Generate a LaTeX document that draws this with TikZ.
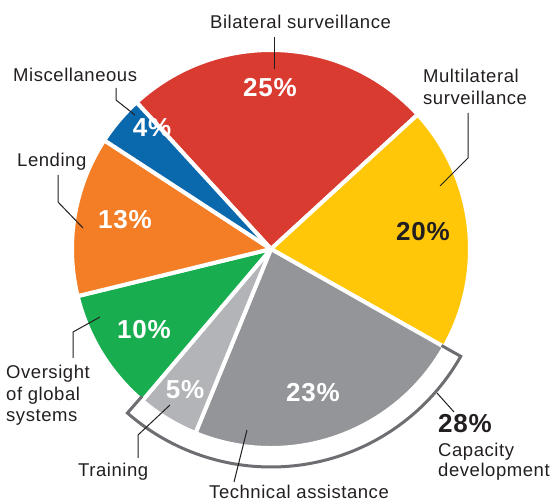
\documentclass[tikz,border=0pt]{standalone}
\usepackage{fontspec}
\usetikzlibrary{calc}
\setmainfont{Liberation Sans}[LetterSpace=3]
\definecolor{cRed}{HTML}{D93B30}
\definecolor{cYellow}{HTML}{FFC708}
\definecolor{cGray}{HTML}{939598}
\definecolor{cLight}{HTML}{B2B4B7}
\definecolor{cGreen}{HTML}{18AE50}
\definecolor{cOrange}{HTML}{F37E26}
\definecolor{cBlue}{HTML}{0A68AD}
\definecolor{cBracket}{HTML}{6D6E71}
\definecolor{cText}{HTML}{231F20}
\begin{document}
\begin{tikzpicture}[x=1pt,y=1pt,
  slice/.style={draw=white,line width=4pt,line join=round},
  lbl/.style={anchor=base west,inner sep=0pt,text=cText,font=\fontsize{18.5}{22}\selectfont},
  pct/.style={inner sep=0pt,font=\fontsize{26}{28}\selectfont\bfseries,text=white},
  leader/.style={draw=cText,line width=1pt}]
\useasboundingbox (0,0) rectangle (552,-502);
\coordinate (C) at (271,-249);
\def\R{199}
% slices
\filldraw[slice,fill=cRed] (C) -- ++(132.5:\R) arc[start angle=132.5,end angle=42.5,radius=\R] -- cycle;
\filldraw[slice,fill=cYellow] (C) -- ++(42.5:\R) arc[start angle=42.5,end angle=-29.5,radius=\R] -- cycle;
\filldraw[slice,fill=cGray] (C) -- ++(-29.5:\R) arc[start angle=-29.5,end angle=-112.3,radius=\R] -- cycle;
\filldraw[slice,fill=cLight] (C) -- ++(-112.3:\R) arc[start angle=-112.3,end angle=-130.3,radius=\R] -- cycle;
\filldraw[slice,fill=cGreen] (C) -- ++(-130.3:\R) arc[start angle=-130.3,end angle=-166.3,radius=\R] -- cycle;
\filldraw[slice,fill=cOrange] (C) -- ++(-166.3:\R) arc[start angle=-166.3,end angle=-213.1,radius=\R] -- cycle;
\filldraw[slice,fill=cBlue] (C) -- ++(-213.1:\R) arc[start angle=-213.1,end angle=-227.5,radius=\R] -- cycle;
% capacity development bracket
\draw[cBracket,line width=3pt,line join=miter] ($(C)+(-29.5:196)$) -- ($(C)+(-29.5:218)$)
  arc[start angle=-29.5,end angle=-131.2,radius=218] -- ($(C)+(-131.2:196)$);
% percentages
\node[pct] (p25) at (270,-88) {25\%};
\node[pct,text=cText] (p20) at (423,-232) {20\%};
\node[pct] (p23) at (313,-393) {23\%};
\node[pct] (p5) at (185,-390) {5\%};
\node[pct] (p10) at (144,-330) {10\%};
\node[pct] (p13) at (125,-220) {13\%};
\node[pct] (p4) at (152,-128) {4\%};
% labels
\node[lbl] (bil) at (210,-29) {Bilateral surveillance};
\node[lbl] (mul1) at (423,-83) {Multilateral};
\node[lbl] (mul2) at (423,-105) {surveillance};
\node[lbl] (misc) at (13,-82) {Miscellaneous};
\node[lbl] (lend) at (17,-167) {Lending};
\node[lbl] (ov1) at (6,-379) {Oversight};
\node[lbl] (ov2) at (6,-401) {of global};
\node[lbl] (ov3) at (6,-422) {systems};
\node[lbl] (train) at (78,-477) {Training};
\node[lbl] (tech) at (209,-498.5) {Technical assistance};
\node[lbl,font=\fontsize{26}{28}\selectfont\bfseries] (cap0) at (438,-433) {28\%};
\node[lbl] (cap1) at (438,-457) {Capacity};
\node[lbl] (cap2) at (438,-477) {development};
% leader lines
\coordinate (bA) at (274,-37); \coordinate (bB) at (274,-69);
\draw[leader] (bA) -- (bB);
\coordinate (mA) at (468,-113); \coordinate (mB) at (468,-158); \coordinate (mC) at (440,-186);
\draw[leader] (mA) -- (mB) -- (mC);
\coordinate (sA) at (116,-88); \coordinate (sB) at (116,-100); \coordinate (sC) at (135,-115);
\draw[leader] (sA) -- (sB) -- (sC);
\coordinate (lA) at (58,-175); \coordinate (lB) at (58,-202); \coordinate (lC) at (83,-228);
\draw[leader] (lA) -- (lB) -- (lC);
\coordinate (oA) at (73,-358); \coordinate (oB) at (73,-332); \coordinate (oC) at (100,-317);
\draw[leader] (oA) -- (oB) -- (oC);
\coordinate (tA) at (138,-458); \coordinate (tB) at (138,-435); \coordinate (tC) at (170,-405);
\draw[leader] (tA) -- (tB) -- (tC);
\coordinate (eA) at (234,-482); \coordinate (eB) at (247,-430);
\draw[leader] (eA) -- (eB);
\coordinate (cA) at (437,-393); \coordinate (cB) at (454,-412);
\draw[leader] (cA) -- (cB);
\end{tikzpicture}
\end{document}
